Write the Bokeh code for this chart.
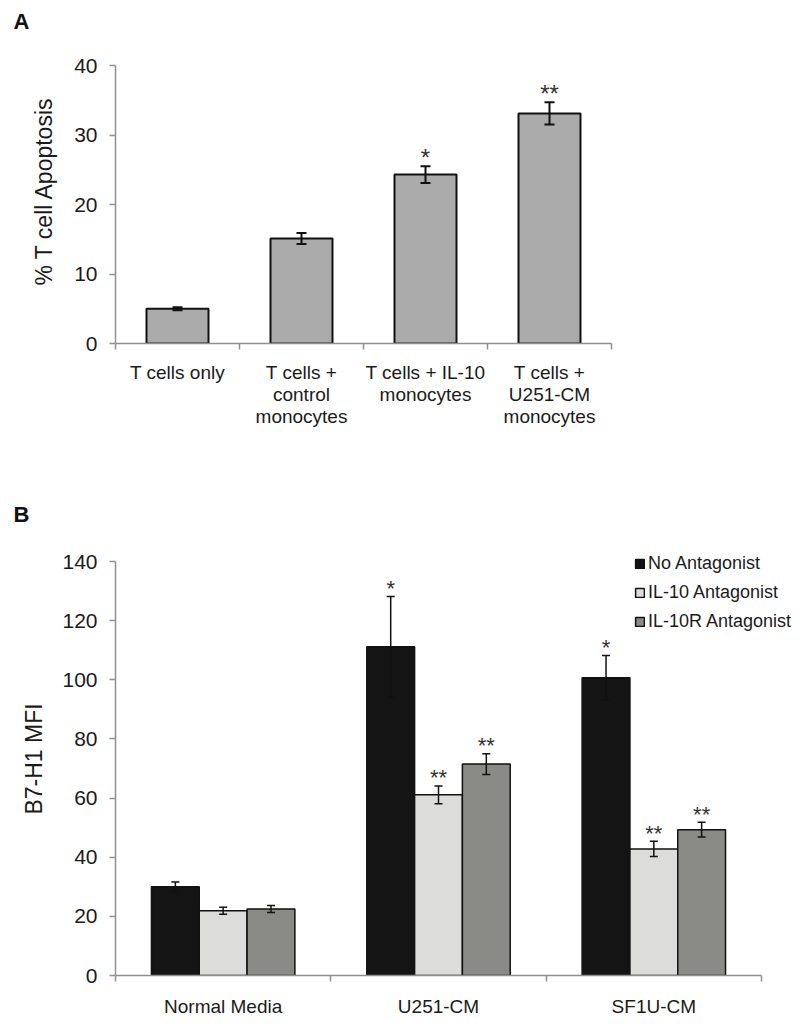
from bokeh.plotting import figure
from bokeh.models import (ColumnDataSource, Whisker, TeeHead, FixedTicker,
                          Legend, LegendItem, Range1d)
from bokeh.embed import file_html
from bokeh.resources import INLINE
from bokeh.core.properties import value

# ---------------- data: panel A ----------------
a_categories = ["T cells only", "T cells +\ncontrol\nmonocytes",
                "T cells + IL-10\nmonocytes", "T cells +\nU251-CM\nmonocytes"]
a_values = [5.0, 15.1, 24.3, 33.1]
a_errors = [0.2, 0.8, 1.2, 1.6]
a_marks = ["", "", "*", "**"]
a_yticks = [0, 10, 20, 30, 40]

# ---------------- data: panel B ----------------
b_groups = ["Normal Media", "U251-CM", "SF1U-CM"]
b_series = ["No Antagonist", "IL-10 Antagonist", "IL-10R Antagonist"]
b_no_ant = [30.0, 111.2, 100.7]
b_no_ant_err = [1.6, 17.0, 7.5]
b_il10 = [21.9, 61.1, 42.8]
b_il10_err = [1.2, 3.0, 2.6]
b_il10r = [22.5, 71.5, 49.3]
b_il10r_err = [1.2, 3.5, 2.5]
b_no_ant_marks = ["", "*", "*"]
b_il10_marks = ["", "**", "**"]
b_il10r_marks = ["", "**", "**"]
b_yticks = [0, 20, 40, 60, 80, 100, 120, 140]

FONT = "Liberation Sans"
AXIS_GRAY = "#8f8f8f"


def style_axes(p, tick_font, xlabel_font):
    p.xgrid.visible = False
    p.ygrid.visible = False
    p.outline_line_color = None
    for ax in (p.xaxis[0], p.yaxis[0]):
        ax.axis_line_color = AXIS_GRAY
        ax.axis_line_width = 1.5
        ax.major_tick_line_color = AXIS_GRAY
        ax.minor_tick_line_color = AXIS_GRAY
        ax.major_tick_line_width = 1.5
        ax.minor_tick_line_width = 1.5
        ax.major_label_text_font = FONT
        ax.major_label_text_color = "#1a1a1a"
        ax.axis_label_text_font = FONT
        ax.axis_label_text_font_style = "normal"
        ax.axis_label_text_color = "#1a1a1a"
    p.yaxis[0].major_tick_in = 0
    p.yaxis[0].major_tick_out = 6
    p.yaxis[0].minor_tick_in = 0
    p.yaxis[0].minor_tick_out = 0
    p.yaxis[0].major_label_text_font_size = tick_font
    p.xaxis[0].major_tick_in = 0
    p.xaxis[0].major_tick_out = 0
    p.xaxis[0].minor_tick_in = 0
    p.xaxis[0].minor_tick_out = 6
    p.xaxis[0].major_label_text_font_size = xlabel_font
    p.xaxis[0].major_label_text_line_height = 1.05


def style_title(p, text, offset, standoff):
    p.title.text = text
    p.title.align = "left"
    p.title.vertical_align = "bottom"
    p.title.offset = offset
    p.title.standoff = standoff
    p.title.text_font = FONT
    p.title.text_font_size = "22px"
    p.title.text_font_style = "bold"
    p.title.text_color = "#111111"


# ================= Panel A =================
nA = len(a_categories)
a_x = [i + 0.5 for i in range(nA)]
srcA = ColumnDataSource(dict(
    x=a_x, top=a_values,
    upper=[v + e for v, e in zip(a_values, a_errors)],
    lower=[v - e for v, e in zip(a_values, a_errors)],
    mark=a_marks,
))

# the frame reaches a little above the 40 tick (the axis line itself stops at 40)
A_AXIS_H = 278
A_FRAME_H = 305
pA = figure(width=792, height=483, x_range=Range1d(0, nA),
            y_range=Range1d(0, a_yticks[-1] * A_FRAME_H / A_AXIS_H),
            output_backend="svg", toolbar_location=None,
            frame_width=496, frame_height=A_FRAME_H,
            min_border_left=115, min_border_right=181, min_border_top=38,
            min_border_bottom=140)
pA.vbar(x="x", top="top", bottom=0, width=0.5, source=srcA,
        fill_color="#ababab", line_color="#111111", line_width=2)
wA = Whisker(base="x", upper="upper", lower="lower", source=srcA, level="overlay",
             line_color="#111111", line_width=2,
             upper_head=TeeHead(size=10, line_width=2, line_color="#111111"),
             lower_head=TeeHead(size=10, line_width=2, line_color="#111111"))
pA.add_layout(wA)
pA.text(x="x", y="upper", text="mark", source=srcA, text_align="center",
        text_baseline="alphabetic", y_offset=-9, text_font=value(FONT),
        text_font_size="24px", text_color="#333333")

style_axes(pA, "21px", "19px")
pA.yaxis[0].bounds = (a_yticks[0], a_yticks[-1])
pA.yaxis[0].ticker = FixedTicker(ticks=a_yticks)
pA.yaxis[0].major_label_standoff = 12
pA.yaxis[0].axis_label = "% T cell Apoptosis"
pA.yaxis[0].axis_label_text_font_size = "23px"
pA.yaxis[0].axis_label_standoff = 14
pA.xaxis[0].ticker = FixedTicker(ticks=a_x, minor_ticks=list(range(nA + 1)))
pA.xaxis[0].major_label_overrides = {x: c for x, c in zip(a_x, a_categories)}
pA.xaxis[0].major_label_standoff = 12
style_title(pA, "A", -102, 10)

# ================= Panel B =================
nB = len(b_groups)
offsets = [-0.222, 0.0, 0.222]
series_vals = [b_no_ant, b_il10, b_il10r]
series_errs = [b_no_ant_err, b_il10_err, b_il10r_err]
series_marks = [b_no_ant_marks, b_il10_marks, b_il10r_marks]
series_colors = ["#141414", "#dcddda", "#8a8b86"]

# frame extends right and up so the legend (which overhangs the axes) is not clipped;
# the axes themselves are bounded to the data extent
B_FRAME_W = 677
B_AXIS_W = 646
B_AXIS_H = 414
B_FRAME_H = 433
pB = figure(width=792, height=534, x_range=Range1d(0, nB * B_FRAME_W / B_AXIS_W),
            y_range=Range1d(0, b_yticks[-1] * B_FRAME_H / B_AXIS_H),
            output_backend="svg", toolbar_location=None,
            frame_width=B_FRAME_W, frame_height=B_FRAME_H,
            min_border_left=115, min_border_right=0, min_border_top=59,
            min_border_bottom=42)

legend_items = []
for k in range(3):
    xs = [i + 0.5 + offsets[k] for i in range(nB)]
    src = ColumnDataSource(dict(
        x=xs, top=series_vals[k],
        upper=[v + e for v, e in zip(series_vals[k], series_errs[k])],
        lower=[v - e for v, e in zip(series_vals[k], series_errs[k])],
        mark=series_marks[k],
    ))
    r = pB.vbar(x="x", top="top", bottom=0, width=0.222, source=src,
                fill_color=series_colors[k], line_color="#111111", line_width=1.5)
    legend_items.append(LegendItem(label=b_series[k], renderers=[r]))
    w = Whisker(base="x", upper="upper", lower="lower", source=src, level="overlay",
                line_color="#111111", line_width=1.5,
                upper_head=TeeHead(size=8, line_width=1.5, line_color="#111111"),
                lower_head=TeeHead(size=8, line_width=1.5, line_color="#111111"))
    pB.add_layout(w)
    pB.text(x="x", y="upper", text="mark", source=src, text_align="center",
            text_baseline="alphabetic", y_offset=-8, text_font=value(FONT),
            text_font_size="22px", text_color="#333333")

style_axes(pB, "21px", "19px")
pB.xaxis[0].bounds = (0, nB)
pB.yaxis[0].bounds = (b_yticks[0], b_yticks[-1])
pB.yaxis[0].ticker = FixedTicker(ticks=b_yticks)
pB.yaxis[0].major_label_standoff = 12
pB.yaxis[0].axis_label = "B7-H1 MFI"
pB.yaxis[0].axis_label_text_font_size = "23px"
pB.yaxis[0].axis_label_standoff = 12
b_x = [i + 0.5 for i in range(nB)]
pB.xaxis[0].ticker = FixedTicker(ticks=b_x, minor_ticks=list(range(nB + 1)))
pB.xaxis[0].major_label_overrides = {x: g for x, g in zip(b_x, b_groups)}
pB.xaxis[0].major_label_standoff = 14
style_title(pB, "B", -102, 31)

legend = Legend(items=legend_items, location=(519, 343), orientation="vertical",
                glyph_width=11, glyph_height=11, label_standoff=3, spacing=8,
                padding=0, margin=0, border_line_color=None,
                background_fill_alpha=0, label_text_font=FONT,
                label_text_font_size="18px", label_text_color="#1a1a1a",
                label_height=20)
pB.add_layout(legend)

open("out.html", "w").write(file_html([pA, pB], INLINE))
